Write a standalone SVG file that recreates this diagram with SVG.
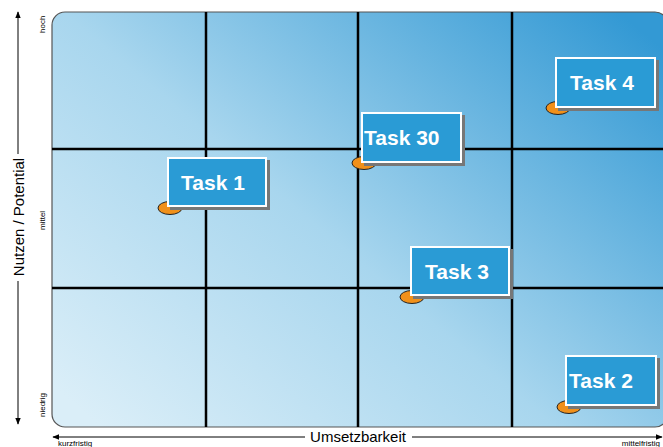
<svg xmlns="http://www.w3.org/2000/svg" width="663" height="447" viewBox="0 0 663 447">
  <defs>
    <linearGradient id="panelFill" x1="0" y1="0.9" x2="1" y2="0.1">
      <stop offset="0" stop-color="#daeef8"/>
      <stop offset="0.45" stop-color="#a8d6ee"/>
      <stop offset="1" stop-color="#3399d4"/>
    </linearGradient>
    <marker id="arrow" viewBox="0 0 10 10" refX="9" refY="5" markerWidth="7" markerHeight="7" orient="auto-start-reverse">
      <path d="M0,1 L10,5 L0,9 Z" fill="#000"/>
    </marker>
    <filter id="shadow" x="-10%" y="-10%" width="130%" height="140%">
      <feOffset dx="3" dy="3" in="SourceAlpha" result="o"/>
      <feFlood flood-color="#777"/>
      <feComposite in2="o" operator="in" result="s"/>
      <feMerge><feMergeNode in="s"/><feMergeNode in="SourceGraphic"/></feMerge>
    </filter>
  </defs>
  <style>
    .grid { stroke: #000; stroke-width: 2.5; }
    .axis { stroke: #000; stroke-width: 1; fill: none; }
    .axisTitle { font-family: "Liberation Sans", Arial, sans-serif; font-size: 15px; fill: #000; }
    .tick { font-family: "Liberation Sans", Arial, sans-serif; font-size: 8px; fill: #000; }
    .box { fill: #2a9bd5; stroke: #fff; stroke-width: 2; }
    .label { font-family: "Liberation Sans", Arial, sans-serif; font-size: 21px; font-weight: bold; fill: #fff; }
    .dot { fill: #f0901a; stroke: #222; stroke-width: 1; }
  </style>

  <rect width="663" height="447" fill="#fff"/>

  <!-- matrix panel -->
  <rect x="52" y="12" width="616" height="415" rx="13" fill="url(#panelFill)" stroke="#555" stroke-width="1.2"/>

  <g id="grid">
    <line class="grid" x1="206" y1="12" x2="206" y2="427"/>
    <line class="grid" x1="358" y1="12" x2="358" y2="427"/>
    <line class="grid" x1="512" y1="12" x2="512" y2="427"/>
    <line class="grid" x1="52" y1="149" x2="663" y2="149"/>
    <line class="grid" x1="52" y1="288" x2="663" y2="288"/>
  </g>

  <!-- vertical axis -->
  <g id="axis-y">
    <line class="axis" x1="18" y1="154" x2="18" y2="12" marker-end="url(#arrow)"/>
    <line class="axis" x1="18" y1="281" x2="18" y2="424" marker-end="url(#arrow)"/>
    <text class="axisTitle" transform="translate(24,217) rotate(-90)" text-anchor="middle">Nutzen / Potential</text>
    <text class="tick" transform="translate(45,33) rotate(-90)">hoch</text>
    <text class="tick" transform="translate(45,230) rotate(-90)">mittel</text>
    <text class="tick" transform="translate(45,417) rotate(-90)">niedrig</text>
  </g>

  <!-- horizontal axis -->
  <g id="axis-x">
    <line class="axis" x1="305" y1="437" x2="53" y2="437" marker-end="url(#arrow)"/>
    <line class="axis" x1="412" y1="437" x2="662" y2="437" marker-end="url(#arrow)"/>
    <text class="axisTitle" x="358" y="442" text-anchor="middle" font-size="14">Umsetzbarkeit</text>
    <text class="tick" x="58" y="446">kurzfristig</text>
    <text class="tick" x="660" y="446" text-anchor="end">mittelfristig</text>
  </g>

  <!-- task markers -->
  <g id="task1">
    <ellipse class="dot" cx="170" cy="208" rx="12" ry="6.5"/>
    <rect class="box" x="168" y="158" width="98" height="48" filter="url(#shadow)"/>
    <text class="label" x="213" y="190" text-anchor="middle">Task 1</text>
  </g>
  <g id="task30">
    <ellipse class="dot" cx="364" cy="163" rx="12" ry="6.5"/>
    <rect class="box" x="362" y="113" width="99" height="49" filter="url(#shadow)"/>
    <text class="label" x="364" y="145">Task 30</text>
  </g>
  <g id="task4">
    <ellipse class="dot" cx="558" cy="108" rx="12" ry="6.5"/>
    <rect class="box" x="556" y="58" width="99" height="49" filter="url(#shadow)"/>
    <text class="label" x="602" y="90" text-anchor="middle">Task 4</text>
  </g>
  <g id="task3">
    <ellipse class="dot" cx="412" cy="297" rx="12" ry="6.5"/>
    <rect class="box" x="411" y="247" width="98" height="48" filter="url(#shadow)"/>
    <text class="label" x="457" y="279" text-anchor="middle">Task 3</text>
  </g>
  <g id="task2">
    <ellipse class="dot" cx="569" cy="407" rx="12" ry="6.5"/>
    <rect class="box" x="566" y="356" width="90" height="49" filter="url(#shadow)"/>
    <text class="label" x="569" y="388">Task 2</text>
  </g>
</svg>
